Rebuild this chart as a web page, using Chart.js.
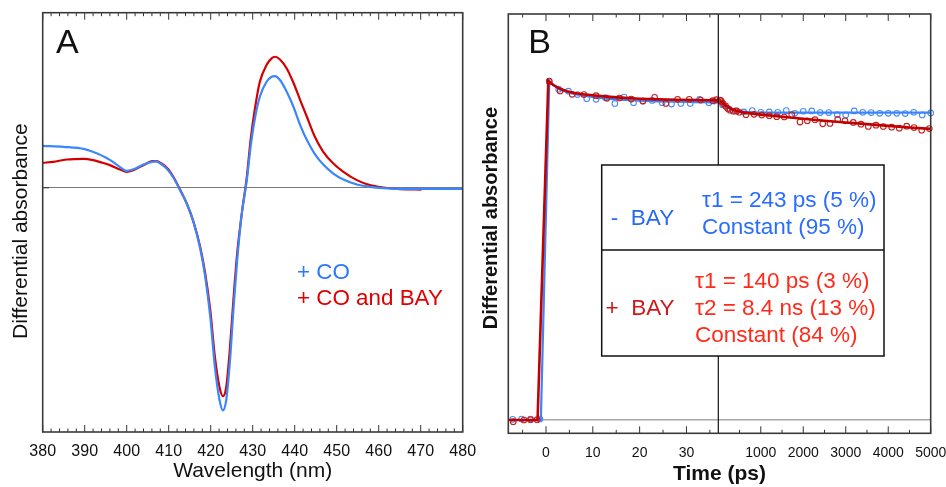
<!DOCTYPE html>
<html><head><meta charset="utf-8">
<script src="https://cdn.jsdelivr.net/npm/chart.js@4.4.0/dist/chart.umd.min.js"></script>
<style>
html,body{margin:0;padding:0;background:#fff;width:946px;height:487px;overflow:hidden}
#ca{position:absolute;left:0;top:0}
#cb{position:absolute;left:476px;top:0}
</style></head><body>
<canvas id="ca" width="476" height="487"></canvas>
<canvas id="cb" width="470" height="487"></canvas>
<script>
// ---------- Panel A data (differential absorbance, arbitrary units) ----------
const wlCO = [380,385,390,393,395,396,398,400,402,404,406,407,408,409.5,411.1,412.7,414.3,415.9,417.5,418.7,419.9,421,422.1,422.9,423.7,424.6,425.4,426.3,427.4,428.6,429.5,430.6,431.7,433.3,434.5,435.3,436.5,438.1,439.7,441.3,442.9,444.8,446.8,449.2,451.6,454.8,457.9,461.1,465.1,473,480];
const absCO = [0.42,0.41,0.387,0.343,0.303,0.28,0.22,0.17,0.19,0.233,0.26,0.265,0.243,0.193,0.103,-0.023,-0.157,-0.34,-0.607,-0.89,-1.29,-1.79,-2.12,-2.223,-2.12,-1.723,-1.223,-0.723,-0.257,0.077,0.41,0.71,0.91,1.06,1.11,1.117,1.077,0.96,0.81,0.627,0.477,0.337,0.233,0.143,0.083,0.033,0.01,-0.003,-0.01,-0.01,-0.01];
const wlCOBAY = [380,382.5,385.7,389.7,392,393.7,396,398.4,400,401.6,403.2,404.8,406,407.1,408.3,409.9,411.1,412.7,414.3,415.9,417.5,418.7,419.9,421,422.1,422.9,423.7,424.6,425.4,426.3,427.4,428.6,429.5,430.6,431.7,433.3,434.5,435.3,436.5,438.1,439.7,441.3,442.9,444.8,446.8,449.2,451.6,454.8,457.9,461.1,465.1,470.2];
const absCOBAY = [0.25,0.26,0.283,0.29,0.277,0.257,0.227,0.183,0.16,0.177,0.21,0.243,0.267,0.267,0.243,0.187,0.11,-0.017,-0.157,-0.34,-0.59,-0.857,-1.223,-1.69,-1.99,-2.083,-1.99,-1.59,-1.123,-0.657,-0.257,0.11,0.477,0.81,1.06,1.227,1.293,1.31,1.283,1.193,1.05,0.877,0.71,0.51,0.36,0.243,0.16,0.077,0.027,0.003,-0.013,-0.017];
const wlTicks = [380,390,400,410,420,430,440,450,460,470,480];
const legendA = ['+ CO', '+ CO and BAY'];

// ---------- Panel B data (normalised differential absorbance) ----------
// early times (ps), linear part of the axis
const tBlueEarly = [-7.1,-5.2,-3.3,-1.3,0.7,2.7,4.8,6.7,8.7,10.7,12.7,14.7,16.7,18.7,20.7,22.7,24.8,26.8,28.8,30.8,32.8,34.8,35.9];
const aBlueEarly = [0.002,0.003,0.003,0.003,0.996,0.975,0.969,0.959,0.947,0.945,0.950,0.933,0.952,0.935,0.940,0.942,0.935,0.931,0.933,0.933,0.945,0.935,0.940];
const tRedEarly = [-7.0,-4.7,-3.3,-1.9,0.7,3.0,5.6,8.1,10.7,13.0,15.7,18.2,20.7,23.2,25.6,28.1,30.6,33.0,35.6,36.4];
const aRedEarly = [-0.005,0.0,0.001,0.001,0.999,0.970,0.960,0.959,0.956,0.948,0.949,0.946,0.940,0.951,0.933,0.945,0.945,0.943,0.941,0.944];
// late times (ps)
const tBlueLate = [100,250,400,600,800,1000,1200,1400,1600,1800,2000,2200,2400,2600,2800,3000,3200,3400,3600,3800,4000,4200,4400,4600,4800,5000];
const aBlueLate = [0.929,0.917,0.911,0.908,0.912,0.907,0.908,0.907,0.912,0.904,0.910,0.911,0.906,0.906,0.900,0.899,0.911,0.907,0.906,0.904,0.904,0.904,0.903,0.907,0.899,0.905];
const tRedLate = [40,60,80,118,174,221,275,353,433,494,652,840,1022,1201,1375,1554,1728,1923,2095,2276,2458,2629,2811,2982,3178,3359,3531,3712,3884,4082,4261,4435,4607,4788,4967];
const aRedLate = [0.943,0.941,0.938,0.932,0.925,0.918,0.913,0.910,0.911,0.907,0.900,0.901,0.899,0.897,0.894,0.893,0.900,0.878,0.882,0.885,0.873,0.874,0.886,0.882,0.877,0.872,0.865,0.869,0.865,0.863,0.860,0.866,0.862,0.854,0.859];
// fits
const tFitBlueEarly = [-8.05,-1.1,0.7,1.5,3,4.5,6,8,10,13,16,20,24,28,32,36.8];
const aFitBlueEarly = [0,0,0.998,0.988,0.974,0.966,0.961,0.956,0.952,0.947,0.944,0.941,0.939,0.938,0.937,0.936];
const tFitRedEarly = [-8.05,-1.8,0.5,1.5,3,4.5,6,8,10,13,16,20,24,28,32,36.8];
const aFitRedEarly = [0,0,1.0,0.988,0.976,0.969,0.964,0.960,0.957,0.953,0.950,0.947,0.945,0.944,0.943,0.942];
const tFitBlueLate = [37,100,150,200,300,400,500,600,800,1000,2000,3000,4000,5000];
const aFitBlueLate = [0.936,0.929,0.924,0.921,0.916,0.912,0.910,0.909,0.907,0.906,0.906,0.906,0.906,0.906];
const tFitRedLate = [37,100,150,200,300,400,600,800,1000,1500,2000,2500,3000,3500,4000,4500,5000];
const aFitRedLate = [0.942,0.935,0.930,0.925,0.917,0.912,0.906,0.903,0.900,0.894,0.888,0.882,0.877,0.872,0.867,0.862,0.858];
const earlyTicks = [0,10,20,30];
const earlyMinor = [-5,5,15,25,35];
const lateTicks = [1000,2000,3000,4000,5000];
const lateMinor = [500,1500,2500,3500,4500];
const boxBlueLabel = '-  BAY';
const boxBlueRows = ['\u03c41 = 243 ps (5 %)', 'Constant (95 %)'];
const boxRedLabel = '+  BAY';
const boxRedRows = ['\u03c41 = 140 ps (3 %)', '\u03c42 = 8.4 ns (13 %)', 'Constant (84 %)'];

// ---------- styling ----------
const FONT = '"Liberation Sans", Arial, Helvetica, sans-serif';
const BLUE_A = '#3a86ff', RED_A = '#d40000';
const BLUE_L = '#3b84fb', RED_L = '#c20000';
const BLUE_P = '#4a8ef5', RED_P = '#c41f1f';
const toXY = (xs, ys) => xs.map((x, i) => ({x: x, y: ys[i]}));
function seg(ctx, x1, y1, x2, y2) { ctx.beginPath(); ctx.moveTo(x1, y1); ctx.lineTo(x2, y2); ctx.stroke(); }

// ---------- Panel A ----------
const panelA = {
  id: 'panelA',
  afterDraw(chart) {
    const {ctx, chartArea: a, scales: {x, y}} = chart;
    ctx.save();
    ctx.strokeStyle = '#333'; ctx.lineWidth = 1;
    for (let v = 380; v <= 480; v += 2) {
      const px = x.getPixelForValue(v);
      const len = (v % 10 === 0) ? 7 : 3.5;
      seg(ctx, px, a.bottom, px, a.bottom - len);
      seg(ctx, px, a.top, px, a.top + len);
    }
    const py0 = y.getPixelForValue(0);
    seg(ctx, a.left, py0, a.left + 6.5, py0);
    ctx.strokeStyle = '#3a3a3a'; ctx.lineWidth = 1.6;
    ctx.strokeRect(a.left, a.top, a.width, a.height);
    ctx.fillStyle = '#111'; ctx.textBaseline = 'alphabetic'; ctx.textAlign = 'left';
    ctx.font = '34px ' + FONT;
    ctx.fillText('A', a.left + 13.3, a.top + 40.6);
    ctx.font = '22.4px ' + FONT;
    ctx.fillStyle = '#2a78ff'; ctx.fillText(legendA[0], a.left + 254.3, a.top + 266.6);
    ctx.fillStyle = '#e00000'; ctx.fillText(legendA[1], a.left + 254.3, a.top + 292.3);
    ctx.restore();
  }
};

new Chart(document.getElementById('ca'), {
  type: 'scatter',
  data: { datasets: [
    {data: toXY(wlCO, absCO), showLine: true, borderColor: BLUE_A, borderWidth: 2.2, pointRadius: 0, cubicInterpolationMode: 'monotone', order: 1},
    {data: toXY(wlCOBAY, absCOBAY), showLine: true, borderColor: RED_A, borderWidth: 2.2, pointRadius: 0, cubicInterpolationMode: 'monotone', order: 2}
  ]},
  options: {
    responsive: false, animation: false, events: [],
    layout: {padding: {left: 0, top: 12.7, right: 13.3, bottom: 0}},
    plugins: {legend: {display: false}, tooltip: {enabled: false}},
    scales: {
      x: {
        type: 'linear', position: 'bottom', min: 380, max: 480,
        grid: {display: false, drawTicks: false}, border: {display: false},
        ticks: {font: {family: FONT, size: 16}, color: '#111', padding: 9.6, autoSkip: false, maxRotation: 0, minRotation: 0, callback: v => String(v)},
        afterBuildTicks: s => { s.ticks = wlTicks.map(v => ({value: v})); },
        afterFit: s => { s.height = 55; s.paddingLeft = 0; s.paddingRight = 0; },
        title: {display: true, text: 'Wavelength (nm)', font: {family: FONT, size: 21}, color: '#111', padding: {top: 0, bottom: 3}}
      },
      y: {
        type: 'linear', position: 'left', min: -2.44, max: 1.75,
        grid: {display: true, drawTicks: false, color: '#7a7a7a', lineWidth: 1}, border: {display: false},
        ticks: {display: false},
        afterBuildTicks: s => { s.ticks = [{value: 0}]; },
        afterFit: s => { s.width = 42.7; s.paddingTop = 0; s.paddingBottom = 0; },
        title: {display: true, text: 'Differential absorbance   ', font: {family: FONT, size: 21}, color: '#111', padding: {top: 8.4, bottom: 0}}
      }
    }
  },
  plugins: [panelA]
});

// ---------- Panel B ----------
const panelB = {
  id: 'panelB',
  afterDraw(chart) {
    const {ctx, chartArea: a, scales: {xl, xr}} = chart;
    ctx.save();
    ctx.strokeStyle = '#333'; ctx.lineWidth = 1;
    const tick = (px, len) => { seg(ctx, px, a.bottom, px, a.bottom - len); seg(ctx, px, a.top, px, a.top + len); };
    earlyTicks.forEach(v => tick(xl.getPixelForValue(v), 7));
    earlyMinor.forEach(v => tick(xl.getPixelForValue(v), 3.5));
    lateTicks.forEach(v => tick(xr.getPixelForValue(v), 7));
    lateMinor.forEach(v => tick(xr.getPixelForValue(v), 3.5));
    ctx.strokeStyle = '#111'; ctx.lineWidth = 1.2;
    seg(ctx, xr.left, a.top, xr.left, a.bottom);
    ctx.strokeStyle = '#3a3a3a'; ctx.lineWidth = 1.6;
    ctx.strokeRect(a.left, a.top, a.width, a.height);
    ctx.fillStyle = '#111'; ctx.textBaseline = 'alphabetic'; ctx.textAlign = 'left';
    ctx.font = '34px ' + FONT;
    ctx.fillText('B', a.left + 20, a.top + 39.3);
    // fit box
    const bx = a.left + 93.4, by = a.top + 151, bw = 282.3, bh = 191;
    ctx.fillStyle = '#fff'; ctx.fillRect(bx, by, bw, bh);
    ctx.strokeStyle = '#111'; ctx.lineWidth = 1.5;
    ctx.strokeRect(bx, by, bw, bh);
    seg(ctx, bx, by + 85, bx + bw, by + 85);
    ctx.font = '22.5px ' + FONT;
    ctx.fillStyle = '#2a68f2'; ctx.fillText(boxBlueLabel, bx + 9.1, by + 59.5);
    ctx.fillStyle = '#2a6cff';
    ctx.fillText(boxBlueRows[0], bx + 100.3, by + 41.7);
    ctx.fillText(boxBlueRows[1], bx + 100.3, by + 69);
    ctx.fillStyle = '#cc1a1a'; ctx.fillText(boxRedLabel, bx + 3.8, by + 150);
    ctx.fillStyle = '#ff2a1a';
    ctx.fillText(boxRedRows[0], bx + 93.3, by + 123.3);
    ctx.fillText(boxRedRows[1], bx + 93.3, by + 150);
    ctx.fillText(boxRedRows[2], bx + 93.3, by + 176.7);
    ctx.restore();
  }
};

const ptStyle = (col) => ({showLine: false, pointStyle: 'circle', pointRadius: 2.8, pointBorderWidth: 1.1, pointBorderColor: col, pointBackgroundColor: 'rgba(0,0,0,0)', borderColor: col, backgroundColor: 'rgba(0,0,0,0)', clip: 5});
const lnStyle = (col, w) => ({showLine: true, borderColor: col, borderWidth: w, pointRadius: 0, tension: 0, clip: 2});

new Chart(document.getElementById('cb'), {
  type: 'scatter',
  data: { datasets: [
    Object.assign({data: toXY(tBlueEarly, aBlueEarly), xAxisID: 'xl', yAxisID: 'y', order: 4}, ptStyle(BLUE_P)),
    Object.assign({data: toXY(tBlueLate, aBlueLate), xAxisID: 'xr', yAxisID: 'y', order: 4}, ptStyle(BLUE_P)),
    Object.assign({data: toXY(tFitBlueEarly, aFitBlueEarly), xAxisID: 'xl', yAxisID: 'y', order: 3}, lnStyle(BLUE_L, 2.2)),
    Object.assign({data: toXY(tFitBlueLate, aFitBlueLate), xAxisID: 'xr', yAxisID: 'y', order: 3}, lnStyle(BLUE_L, 2.2)),
    Object.assign({data: toXY(tRedEarly, aRedEarly), xAxisID: 'xl', yAxisID: 'y', order: 2}, ptStyle(RED_P)),
    Object.assign({data: toXY(tRedLate, aRedLate), xAxisID: 'xr', yAxisID: 'y', order: 2}, ptStyle(RED_P)),
    Object.assign({data: toXY(tFitRedEarly, aFitRedEarly), xAxisID: 'xl', yAxisID: 'y', order: 1}, lnStyle(RED_L, 2.6)),
    Object.assign({data: toXY(tFitRedLate, aFitRedLate), xAxisID: 'xr', yAxisID: 'y', order: 1}, lnStyle(RED_L, 2.6))
  ]},
  options: {
    responsive: false, animation: false, events: [],
    layout: {padding: {left: 0, top: 14, right: 15.3, bottom: 0}},
    plugins: {legend: {display: false}, tooltip: {enabled: false}},
    scales: {
      xl: {
        type: 'linear', position: 'bottom', stack: 'time', stackWeight: 210, weight: 0, min: -8.05, max: 36.8,
        grid: {display: false, drawTicks: false}, border: {display: false},
        ticks: {font: {family: FONT, size: 14}, color: '#111', padding: 11.4, autoSkip: false, maxRotation: 0, minRotation: 0, callback: v => String(v)},
        afterBuildTicks: s => { s.ticks = earlyTicks.map(v => ({value: v})); },
        afterFit: s => { s.height = 28; s.paddingLeft = 0; s.paddingRight = 0; }
      },
      xr: {
        type: 'linear', position: 'bottom', stack: 'time', stackWeight: 212.4, weight: 0, min: 0, max: 5000,
        grid: {display: false, drawTicks: false}, border: {display: false},
        ticks: {font: {family: FONT, size: 14}, color: '#111', padding: 11.4, autoSkip: false, maxRotation: 0, minRotation: 0, callback: v => String(v)},
        afterBuildTicks: s => { s.ticks = lateTicks.map(v => ({value: v})); },
        afterFit: s => { s.height = 28; s.paddingLeft = 0; s.paddingRight = 0; }
      },
      xt: {
        type: 'linear', position: 'bottom', weight: 1, min: 0, max: 1,
        grid: {display: false, drawTicks: false}, border: {display: false},
        ticks: {display: false},
        afterFit: s => { s.height = 25.7; s.paddingLeft = 0; s.paddingRight = 0; },
        title: {display: true, text: 'Time (ps)', font: {family: FONT, size: 21, weight: 'bold'}, color: '#111', padding: 0}
      },
      y: {
        type: 'linear', position: 'left', min: -0.0392, max: 1.1966,
        grid: {display: true, drawTicks: false, color: '#a8a8a8', lineWidth: 1.5}, border: {display: false},
        ticks: {display: false},
        afterBuildTicks: s => { s.ticks = [{value: 0}]; },
        afterFit: s => { s.width = 32.3; s.paddingTop = 0; s.paddingBottom = 0; },
        title: {display: true, text: '  Differential absorbance', font: {family: FONT, size: 20, weight: 'bold'}, color: '#111', padding: {top: 3, bottom: 0}}
      }
    }
  },
  plugins: [panelB]
});
</script>
</body></html>
